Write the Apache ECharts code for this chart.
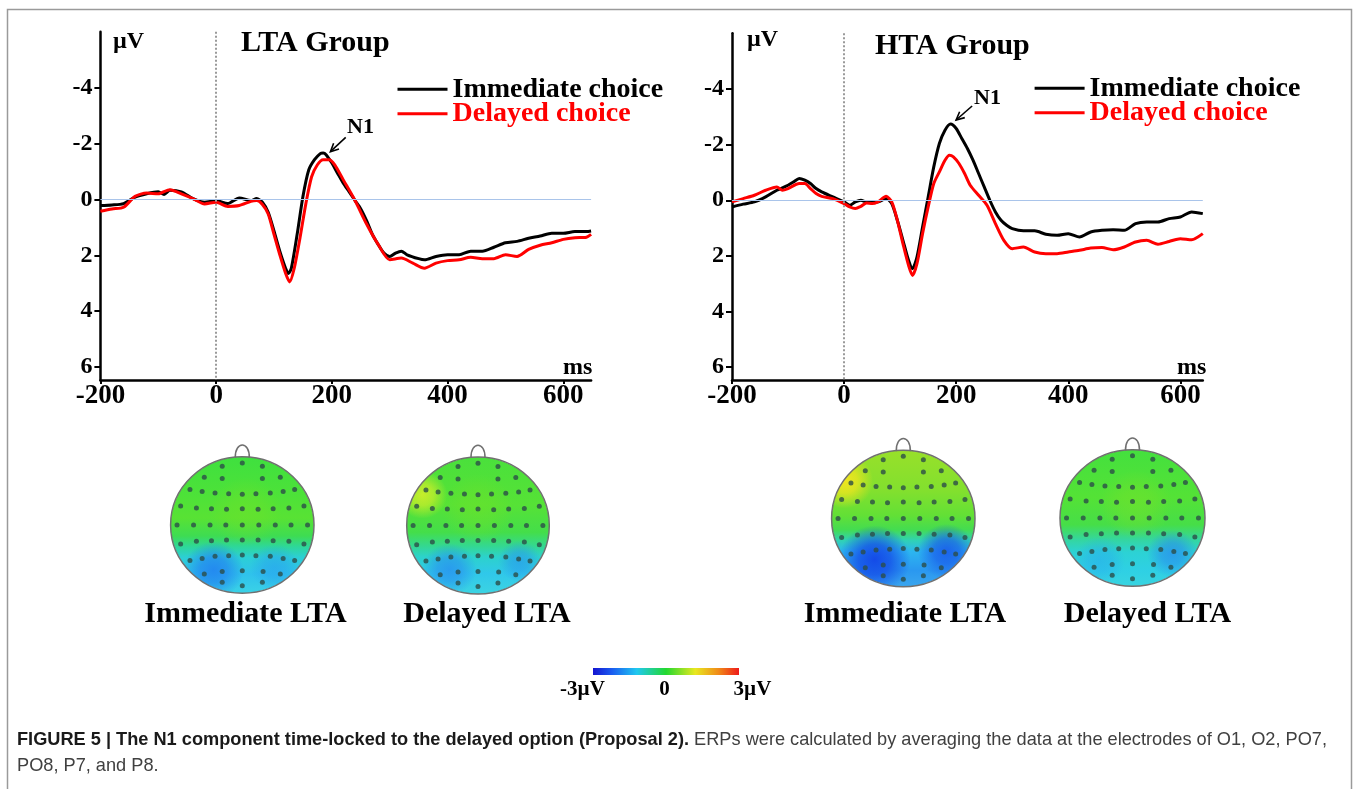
<!DOCTYPE html>
<html><head><meta charset="utf-8">
<script src="https://cdn.jsdelivr.net/npm/echarts@6/dist/echarts.min.js"></script>
<style>html,body{margin:0;padding:0;background:#fff}#c{width:1360px;height:789px}</style>
</head><body><div id="c"></div>
<script>
// ---------- data (ms, µV; negative plotted upward) ----------
const seriesNames = ['Immediate choice', 'Delayed choice'];
const xTicks = [-200, 0, 200, 400, 600];
const yTicks = [-4, -2, 0, 2, 4, 6];

const ltaImmediate = [[-200,0.22],[-180,0.2],[-160,0.15],[-140,-0.08],[-120,-0.2],[-100,-0.27],[-90,-0.18],[-80,-0.33],[-60,-0.27],[-40,-0.03],[-20,0.1],[0,0.04],[20,0.15],[40,-0.05],[60,0.04],[70,-0.03],[80,0.1],[90,0.46],[100,1.13],[110,1.85],[120,2.46],[125,2.65],[130,2.46],[140,1.25],[150,-0.1],[160,-1.05],[170,-1.42],[180,-1.64],[185,-1.66],[190,-1.6],[200,-1.3],[210,-0.93],[220,-0.57],[230,-0.27],[240,0.04],[250,0.34],[260,0.76],[270,1.25],[280,1.61],[290,1.92],[300,2.04],[310,1.92],[320,1.85],[330,1.98],[350,2.12],[360,2.16],[380,2.04],[400,1.98],[420,1.98],[440,1.85],[460,1.85],[480,1.71],[500,1.55],[520,1.5],[540,1.39],[560,1.31],[580,1.21],[600,1.21],[620,1.15],[640,1.15],[648,1.13]];
const ltaDelayed = [[-200,0.42],[-180,0.34],[-160,0.28],[-140,-0.11],[-120,-0.23],[-100,-0.2],[-80,-0.35],[-60,-0.2],[-40,-0.03],[-20,0.16],[0,0.1],[20,0.25],[40,0.22],[60,0.07],[70,0.04],[80,0.18],[90,0.52],[100,1.25],[110,1.98],[120,2.64],[127,2.95],[135,2.46],[145,1.37],[155,0.16],[165,-0.81],[175,-1.24],[185,-1.42],[195,-1.42],[205,-1.24],[220,-0.69],[240,0.04],[260,0.88],[280,1.61],[300,2.16],[320,2.1],[340,2.28],[360,2.46],[380,2.28],[400,2.19],[420,2.16],[440,2.07],[460,2.12],[480,2.12],[500,1.98],[520,2.04],[540,1.79],[560,1.64],[580,1.55],[600,1.43],[620,1.37],[640,1.35],[648,1.25]];
const htaImmediate = [[-200,0.24],[-180,0.14],[-160,0.06],[-140,-0.12],[-120,-0.36],[-100,-0.54],[-90,-0.66],[-80,-0.78],[-70,-0.72],[-60,-0.6],[-50,-0.42],[-40,-0.3],[-20,-0.12],[0,0.06],[10,0.18],[20,0.06],[30,0],[40,0.06],[60,0.06],[75,-0.06],[85,0.12],[95,0.72],[105,1.44],[115,2.16],[122,2.46],[130,2.04],[140,0.96],[150,-0.12],[160,-1.2],[170,-2.04],[180,-2.52],[190,-2.74],[200,-2.58],[210,-2.22],[220,-1.86],[230,-1.44],[240,-0.96],[250,-0.48],[260,0],[270,0.42],[280,0.72],[290,0.9],[300,1.02],[320,1.1],[340,1.1],[360,1.22],[380,1.26],[400,1.2],[420,1.32],[440,1.14],[460,1.08],[480,1.06],[500,1.08],[520,0.84],[540,0.78],[560,0.78],[580,0.66],[600,0.6],[620,0.42],[640,0.48]];
const htaDelayed = [[-200,0.06],[-180,-0.06],[-160,-0.18],[-140,-0.36],[-120,-0.48],[-110,-0.36],[-100,-0.42],[-80,-0.6],[-70,-0.6],[-60,-0.42],[-50,-0.24],[-40,-0.14],[-20,-0.06],[0,0.12],[10,0.24],[20,0.3],[30,0.22],[40,0.1],[50,0.12],[60,0.06],[75,-0.14],[85,0.06],[95,0.72],[105,1.56],[115,2.34],[122,2.7],[130,2.28],[140,1.2],[150,0.24],[160,-0.6],[170,-1.02],[180,-1.44],[188,-1.62],[195,-1.56],[205,-1.32],[215,-0.96],[225,-0.54],[240,-0.18],[255,0.18],[270,0.84],[285,1.44],[300,1.74],[320,1.68],[340,1.86],[360,1.92],[380,1.92],[400,1.86],[420,1.8],[440,1.72],[460,1.7],[480,1.78],[500,1.68],[520,1.5],[540,1.44],[560,1.58],[580,1.48],[600,1.38],[620,1.42],[640,1.2]];

// electrode layout (normalised head coordinates, y up)
const electrodes = [
 [-0.28,0.86],[0,0.91],[0.28,0.86],
 [-0.53,0.70],[-0.28,0.68],[0.28,0.68],[0.53,0.70],
 [-0.73,0.52],[-0.56,0.49],[-0.38,0.47],[-0.19,0.46],[0,0.45],[0.19,0.46],[0.39,0.47],[0.57,0.49],[0.73,0.52],
 [-0.86,0.28],[-0.64,0.25],[-0.43,0.24],[-0.22,0.23],[0,0.24],[0.22,0.23],[0.43,0.24],[0.65,0.25],[0.86,0.28],
 [-0.91,0],[-0.68,0],[-0.45,0],[-0.23,0],[0,0],[0.23,0],[0.46,0],[0.68,0],[0.91,0],
 [-0.86,-0.28],[-0.64,-0.24],[-0.43,-0.23],[-0.22,-0.22],[0,-0.22],[0.22,-0.22],[0.43,-0.23],[0.65,-0.24],[0.86,-0.28],
 [-0.73,-0.52],[-0.56,-0.49],[-0.38,-0.46],[-0.19,-0.45],[0,-0.44],[0.19,-0.45],[0.39,-0.46],[0.57,-0.49],[0.73,-0.52],
 [-0.53,-0.72],[-0.28,-0.68],[0,-0.67],[0.29,-0.68],[0.53,-0.72],
 [-0.28,-0.84],[0,-0.89],[0.28,-0.84]
];
const mapLabels = ['Immediate LTA', 'Delayed LTA', 'Immediate LTA', 'Delayed LTA'];
const colorbarLabels = ['-3\u00b5V', '0', '3\u00b5V'];

// ---------- layout / styles ----------
const SERIF = '"Liberation Serif","Times New Roman",serif';
const panels = [
  {grid:{left:100.4, top:31.7, width:490.7, height:348.3}, xmax:648, data:[ltaImmediate, ltaDelayed], title:'LTA Group',
   titleX:241, titleY:43, uvX:113, uvY:42, legX:397.5, legY:89.3, n1:[347,127.5], arrow:[345.7,137.3,330.4,151.7], msX:563},
  {grid:{left:732, top:33.3, width:470.8, height:346.7}, xmax:640, data:[htaImmediate, htaDelayed], title:'HTA Group',
   titleX:875, titleY:46, uvX:747, uvY:40, legX:1034.6, legY:88.3, n1:[974,98.5], arrow:[972.1,106,956.1,120], msX:1177}
];
const heads = [
  {cx:242.3, cy:525, rx:71.7, ry:68.2, lx:245.5,
   stops:[[0,'#3fe03f'],[0.3,'#4ee238'],[0.45,'#58e234'],[0.58,'#3edc52'],[0.66,'#2ed79a'],[0.74,'#2ccfd6'],[0.86,'#2fc2ec'],[1,'#3ad2e6']],
   blobs:[[0.05,0.2,0.5,'110,226,40',0.5],[-0.40,-0.66,0.42,'35,135,240',0.95],[0.45,-0.62,0.34,'40,160,240',0.6]]},
  {cx:478, cy:525.5, rx:71.3, ry:68.5, lx:487,
   stops:[[0,'#4ae03c'],[0.35,'#56e236'],[0.55,'#44de4a'],[0.65,'#34d890'],[0.73,'#2cd2cc'],[0.85,'#30c8ea'],[1,'#3cd4e2']],
   blobs:[[-0.78,0.45,0.35,'225,240,40',0.8],[0,0.25,0.5,'110,226,40',0.5],[-0.40,-0.64,0.38,'40,145,240',0.8],[0.58,-0.52,0.3,'40,150,240',0.65]]},
  {cx:903.3, cy:518.5, rx:71.7, ry:68.3, lx:905,
   stops:[[0,'#98e02a'],[0.3,'#82e02e'],[0.48,'#62e036'],[0.58,'#44dc50'],[0.66,'#30d2b4'],[0.74,'#2cb6f0'],[0.88,'#2a98f0'],[1,'#3aa6ee']],
   blobs:[[-0.82,0.55,0.4,'245,230,30',0.95],[-0.40,-0.60,0.5,'20,75,232',1],[0.60,-0.48,0.4,'25,90,235',0.9]]},
  {cx:1132.5, cy:518, rx:72.5, ry:68.3, lx:1147.5,
   stops:[[0,'#44e03e'],[0.35,'#54e236'],[0.55,'#46de48'],[0.66,'#34d6a0'],[0.75,'#2cd2d4'],[0.88,'#2ed0e4'],[1,'#38d4e0']],
   blobs:[[0.05,0.2,0.5,'120,226,40',0.5],[-0.45,-0.62,0.35,'40,170,240',0.55],[0.55,-0.52,0.35,'40,140,240',0.75]]}
];

// ---------- build option ----------
const grids = [], xAxes = [], yAxes = [], series = [], graphics = [];
const lineColors = ['#000000', '#ff0000'];

function txt(x, y, text, size, o) {
  o = o || {};
  return {type:'text', x:x, y:y, z:10, scaleX:o.sx || 1,
    style:{text:text, font:'bold ' + size + 'px ' + SERIF, fill:o.fill || '#000',
      textAlign:o.align || 'left', textVerticalAlign:'middle'}};
}

panels.forEach(function(p, i) {
  grids.push(p.grid);
  xAxes.push({gridIndex:i, type:'value', min:-200, max:p.xmax, interval:200,
    axisLine:{onZero:false, lineStyle:{color:'#000', width:2.5}},
    axisTick:{length:4, lineStyle:{color:'#000', width:2}},
    axisLabel:{showMaxLabel:false, color:'#000', fontFamily:SERIF, fontWeight:'bold', fontSize:27, margin:3,
      formatter:function(v){ return xTicks.indexOf(v) >= 0 ? String(v) : ''; }},
    splitLine:{show:false}});
  yAxes.push({gridIndex:i, type:'value', inverse:true, min:-6, max:6.46, interval:2,
    axisLine:{show:true, onZero:false, lineStyle:{color:'#000', width:2.5}},
    axisTick:{show:true, length:6, lineStyle:{color:'#000', width:2}},
    axisLabel:{showMinLabel:false, showMaxLabel:false, color:'#000', fontFamily:SERIF, fontWeight:'bold', fontSize:24, margin:8,
      formatter:function(v){ return yTicks.indexOf(v) >= 0 ? String(v) : ''; }},
    splitLine:{show:false}});
  p.data.forEach(function(d, k) {
    const s = {name:seriesNames[k], type:'line', xAxisIndex:i, yAxisIndex:i, data:d, showSymbol:false,
      smooth:0.25, lineStyle:{color:lineColors[k], width:3}, itemStyle:{color:lineColors[k]}, z:3 + k, silent:true};
    if (k === 0) {
      s.markLine = {silent:true, symbol:['none','none'], label:{show:false}, animation:false,
        data:[{yAxis:0, lineStyle:{color:'#a9c4ea', width:1, type:'solid'}},
              {xAxis:0, lineStyle:{color:'#9a9a9a', width:2, type:'dotted'}}]};
    }
    series.push(s);
  });
  graphics.push(txt(p.uvX, p.uvY, '\u00b5V', 24));
  graphics.push(txt(p.titleX, p.titleY, p.title, 30));
  graphics.push(txt(p.msX, 368, 'ms', 24));
  graphics.push(txt(p.n1[0], p.n1[1], 'N1', 22));
  seriesNames.forEach(function(nm, k) {
    const y = p.legY + k * 24.5;
    graphics.push({type:'line', z:10, shape:{x1:p.legX, y1:y, x2:p.legX + 50, y2:y}, style:{stroke:lineColors[k], lineWidth:3}});
    graphics.push(txt(p.legX + 55, y, nm, 28, {fill:lineColors[k]}));
  });
  const a = p.arrow, ang = Math.atan2(a[1] - a[3], a[0] - a[2]), L = 9, w = 0.45;
  graphics.push({type:'line', z:10, shape:{x1:a[0], y1:a[1], x2:a[2], y2:a[3]}, style:{stroke:'#000', lineWidth:1.6}});
  graphics.push({type:'polyline', z:10, shape:{points:[[a[2] + L*Math.cos(ang + w), a[3] + L*Math.sin(ang + w)], [a[2], a[3]],
    [a[2] + L*Math.cos(ang - w), a[3] + L*Math.sin(ang - w)]]}, style:{stroke:'#000', lineWidth:1.6, fill:null}});
});

heads.forEach(function(h, j) {
  const gi = 2 + j, sy = h.ry / h.rx;
  grids.push({left:h.cx - h.rx, top:h.cy - h.ry, width:2 * h.rx, height:2 * h.ry});
  xAxes.push({gridIndex:gi, type:'value', min:-1, max:1, show:false});
  yAxes.push({gridIndex:gi, type:'value', min:-1, max:1, show:false});
  series.push({type:'scatter', xAxisIndex:gi, yAxisIndex:gi, data:electrodes, symbolSize:5,
    itemStyle:{color:'#2c4d48'}, z:20, silent:true});
  graphics.push({type:'circle', x:h.cx, y:h.cy, scaleY:sy, z:1, shape:{cx:0, cy:0, r:h.rx},
    style:{fill:new echarts.graphic.LinearGradient(0, 0, 0, 1, h.stops.map(function(s){ return {offset:s[0], color:s[1]}; }))}});
  h.blobs.forEach(function(b) {
    graphics.push({type:'circle', x:h.cx + b[0] * h.rx, y:h.cy - b[1] * h.ry, scaleY:sy, z:2, shape:{cx:0, cy:0, r:b[2] * h.rx},
      style:{fill:new echarts.graphic.RadialGradient(0.5, 0.5, 0.5, [
        {offset:0, color:'rgba(' + b[3] + ',' + b[4] + ')'},
        {offset:0.45, color:'rgba(' + b[3] + ',' + (b[4] * 0.75) + ')'},
        {offset:1, color:'rgba(' + b[3] + ',0)'}])}});
  });
  graphics.push({type:'ring', x:h.cx, y:h.cy, scaleY:sy, z:3, shape:{cx:0, cy:0, r:h.rx + 30, r0:h.rx}, style:{fill:'#ffffff'}});
  graphics.push({type:'circle', x:h.cx, y:h.cy, scaleY:sy, z:4, shape:{cx:0, cy:0, r:h.rx},
    style:{fill:null, stroke:'#707070', lineWidth:1.5}});
  const top = h.cy - h.ry;
  graphics.push({type:'bezierCurve', z:4, shape:{x1:h.cx - 7, y1:top + 1, cpx1:h.cx - 7.5, cpy1:top - 16, cpx2:h.cx + 7.5, cpy2:top - 16, x2:h.cx + 7, y2:top + 1},
    style:{stroke:'#707070', lineWidth:1.5, fill:null}});
  graphics.push(txt(h.lx, 614, mapLabels[j], 30, {align:'center'}));
});

// colour bar
graphics.push({type:'rect', z:5, shape:{x:593, y:668, width:146, height:7},
  style:{fill:new echarts.graphic.LinearGradient(0, 0, 1, 0, [
    {offset:0, color:'#1414d0'}, {offset:0.13, color:'#1a5cf0'}, {offset:0.3, color:'#20c8f0'},
    {offset:0.5, color:'#22d830'}, {offset:0.7, color:'#e8e820'}, {offset:0.86, color:'#f08a18'}, {offset:1, color:'#ee1a1a'}])}});
graphics.push(txt(582.5, 689.5, colorbarLabels[0], 21, {align:'center'}));
graphics.push(txt(664.5, 689.5, colorbarLabels[1], 21, {align:'center'}));
graphics.push(txt(752.5, 689.5, colorbarLabels[2], 21, {align:'center'}));

// frame + caption
graphics.push({type:'rect', z:0, shape:{x:7.5, y:9.5, width:1344, height:820}, style:{fill:null, stroke:'#9a9a9a', lineWidth:1.5}});
graphics.push({type:'text', x:17, y:740, z:10, style:{
  text:'{b|FIGURE 5 | The N1 component time-locked to the delayed option (Proposal 2).}{n| ERPs were calculated by averaging the data at the electrodes of O1, O2, PO7,}',
  textVerticalAlign:'middle',
  rich:{b:{font:'bold 18.2px "Liberation Sans",Arial,sans-serif', fill:'#1a1a1a'},
        n:{font:'18.2px "Liberation Sans",Arial,sans-serif', fill:'#404040'}}}});
graphics.push({type:'text', x:17, y:766, z:10, style:{text:'PO8, P7, and P8.', font:'18.2px "Liberation Sans",Arial,sans-serif', fill:'#404040', textVerticalAlign:'middle'}});

const chart = echarts.init(document.getElementById('c'));
chart.setOption({
  animation:false, backgroundColor:'#ffffff',
  grid:grids, xAxis:xAxes, yAxis:yAxes, series:series,
  graphic:{elements:graphics}
});
</script></body></html>
